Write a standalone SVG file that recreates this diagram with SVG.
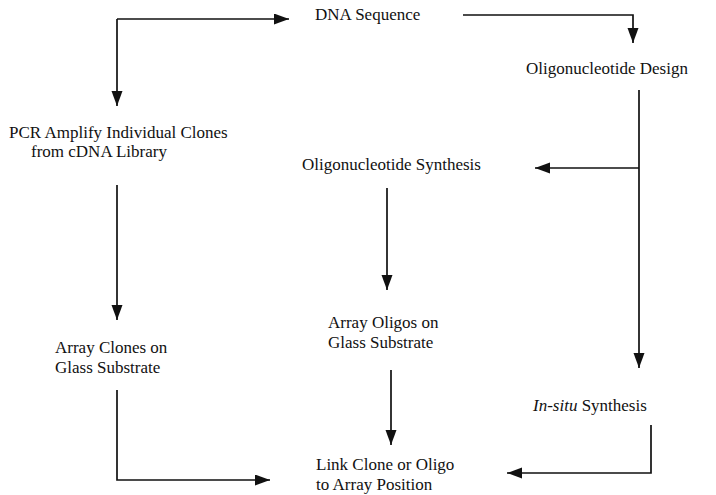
<svg xmlns="http://www.w3.org/2000/svg" width="716" height="495" viewBox="0 0 716 495">
<style>
text{font-family:"Liberation Serif","Times New Roman",serif;font-size:17px;fill:#111}
.c{fill:none;stroke:#111;stroke-width:1.7}
</style>
<defs>
<marker id="ah" markerUnits="userSpaceOnUse" markerWidth="16" markerHeight="12" refX="15" refY="5.5" orient="auto">
<path d="M0,0 L15,5.5 L0,11 z" fill="#111"/>
</marker>
</defs>
<rect width="716" height="495" fill="#fff"/>
<g id="connectors">
<path class="c" d="M117,19 H289" marker-end="url(#ah)"/>
<path class="c" d="M117,19 V106" marker-end="url(#ah)"/>
<path class="c" d="M463,15 H633 V43" marker-end="url(#ah)"/>
<path class="c" d="M639,90 V368" marker-end="url(#ah)"/>
<path class="c" d="M639,168 H535" marker-end="url(#ah)"/>
<path class="c" d="M387,188 V290" marker-end="url(#ah)"/>
<path class="c" d="M391,370 V445" marker-end="url(#ah)"/>
<path class="c" d="M117,185 V320" marker-end="url(#ah)"/>
<path class="c" d="M117,390 V480 H270" marker-end="url(#ah)"/>
<path class="c" d="M651,425 V473 H507" marker-end="url(#ah)"/>
</g>
<g id="dna"><text x="315" y="20">DNA Sequence</text></g>
<g id="design"><text x="526" y="74">Oligonucleotide Design</text></g>
<g id="pcr"><text x="9" y="138">PCR Amplify Individual Clones</text><text x="31" y="157">from cDNA Library</text></g>
<g id="synthesis"><text x="302" y="170">Oligonucleotide Synthesis</text></g>
<g id="arrayclones"><text x="55" y="353">Array Clones on</text><text x="55" y="373">Glass Substrate</text></g>
<g id="arrayoligos"><text x="328" y="328">Array Oligos on</text><text x="328" y="348">Glass Substrate</text></g>
<g id="insitu"><text x="533" y="411"><tspan font-style="italic">In-situ</tspan> Synthesis</text></g>
<g id="link"><text x="316" y="470">Link Clone or Oligo</text><text x="316" y="490">to Array Position</text></g>
</svg>
